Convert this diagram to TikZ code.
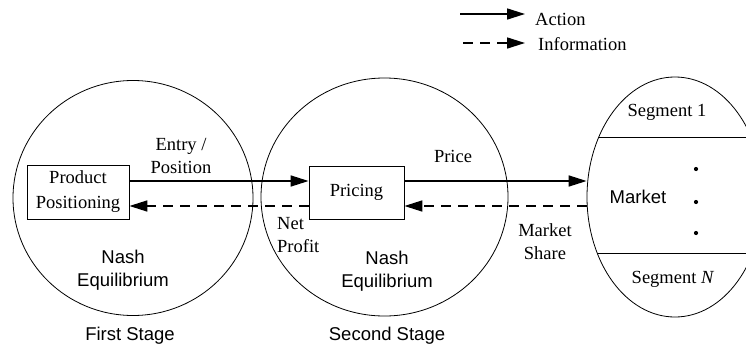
\documentclass[tikz,border=0pt]{standalone}
\usepackage{fontspec}
\setmainfont{Liberation Serif}
\newfontfamily\helv{Liberation Sans}
\usetikzlibrary{arrows.meta,shapes.geometric}
\begin{document}
\begin{tikzpicture}[x=1pt,y=-1pt,
  every node/.style={font=\fontsize{18.5}{23}\selectfont},
  stage/.style={draw, ellipse, line width=0.8pt, inner sep=0pt},
  box/.style={draw, line width=0.8pt, align=center, inner sep=0pt,
    font=\fontsize{18.5}{25}\selectfont},
  lbl/.style={align=center, inner sep=0pt},
  slbl/.style={align=center, inner sep=0pt, font=\helv\fontsize{18.5}{23}\selectfont},
  act/.style={-{Triangle[length=18pt,width=11pt]}, line width=1.6pt},
  info/.style={act, dash pattern=on 10pt off 7pt},
  seg/.style={line width=0.8pt}
]
\useasboundingbox (0,0) rectangle (746,348);
\clip (0,0) rectangle (746,348);

% stages
\node[stage, minimum width=240pt, minimum height=235pt] (c1) at (133,198) {};
\node[stage, minimum width=247pt, minimum height=238pt] (c2) at (384.5,197) {};
\node[stage, minimum width=176pt, minimum height=240pt] (mkt) at (675,197) {};

% segment lines
\begin{scope}
  \clip (675,197) ellipse [x radius=88pt, y radius=120pt];
  \draw[seg] (580,137) -- (760,137);
  \draw[seg] (580,253) -- (760,253);
\end{scope}

% boxes
\node[box, minimum width=102pt, minimum height=54pt] (pp) at (78,192) {Product\\Positioning};
\node[box, minimum width=95pt, minimum height=53pt] (pr) at (356.5,192.5) {Pricing};

% arrows
\draw[act] ([yshift=11pt]pp.east) -- ([yshift=11.5pt]pr.west);
\draw[act] ([yshift=11.5pt]pr.east) -- ([yshift=16pt]mkt.west);
\draw[info] ([yshift=-9pt]mkt.west) -- ([yshift=-13.5pt]pr.east);
\draw[info] ([yshift=-13.5pt]pr.west) -- ([yshift=-14pt]pp.east);

% labels
\node[lbl] (l1) at (181,156) {Entry /\\Position};
\node[lbl] (l2) at (453,156) {Price};
\node[lbl, align=left, anchor=west] (l3) at (277,235) {Net\\Profit};
\node[lbl] (l4) at (545,242) {Market\\Share};
\node[slbl] (n1) at (123,270) {Nash\\Equilibrium};
\node[slbl] (n2) at (387,271) {Nash\\Equilibrium};
\node[slbl] (s1) at (130,336) {First Stage};
\node[slbl] (s2) at (387,336) {Second Stage};
\node[slbl] (mt) at (638,197) {Market};
\node[lbl] (g1) at (667,112) {Segment 1};
\node[lbl] (gn) at (673,279) {Segment \textit{N}};
\fill (696,169) circle (2.1pt);
\fill (696,202) circle (2.1pt);
\fill (696,233) circle (2.1pt);

% legend
\coordinate (a1) at (460,14);
\coordinate (a2) at (525,14);
\coordinate (b1) at (463,43);
\coordinate (b2) at (525,43);
\draw[act] (a1) -- (a2);
\draw[info] (b1) -- (b2);
\node[lbl, anchor=base west] (la) at (535,25) {Action};
\node[lbl, anchor=base west] (lb) at (538,50) {Information};
\end{tikzpicture}
\end{document}
